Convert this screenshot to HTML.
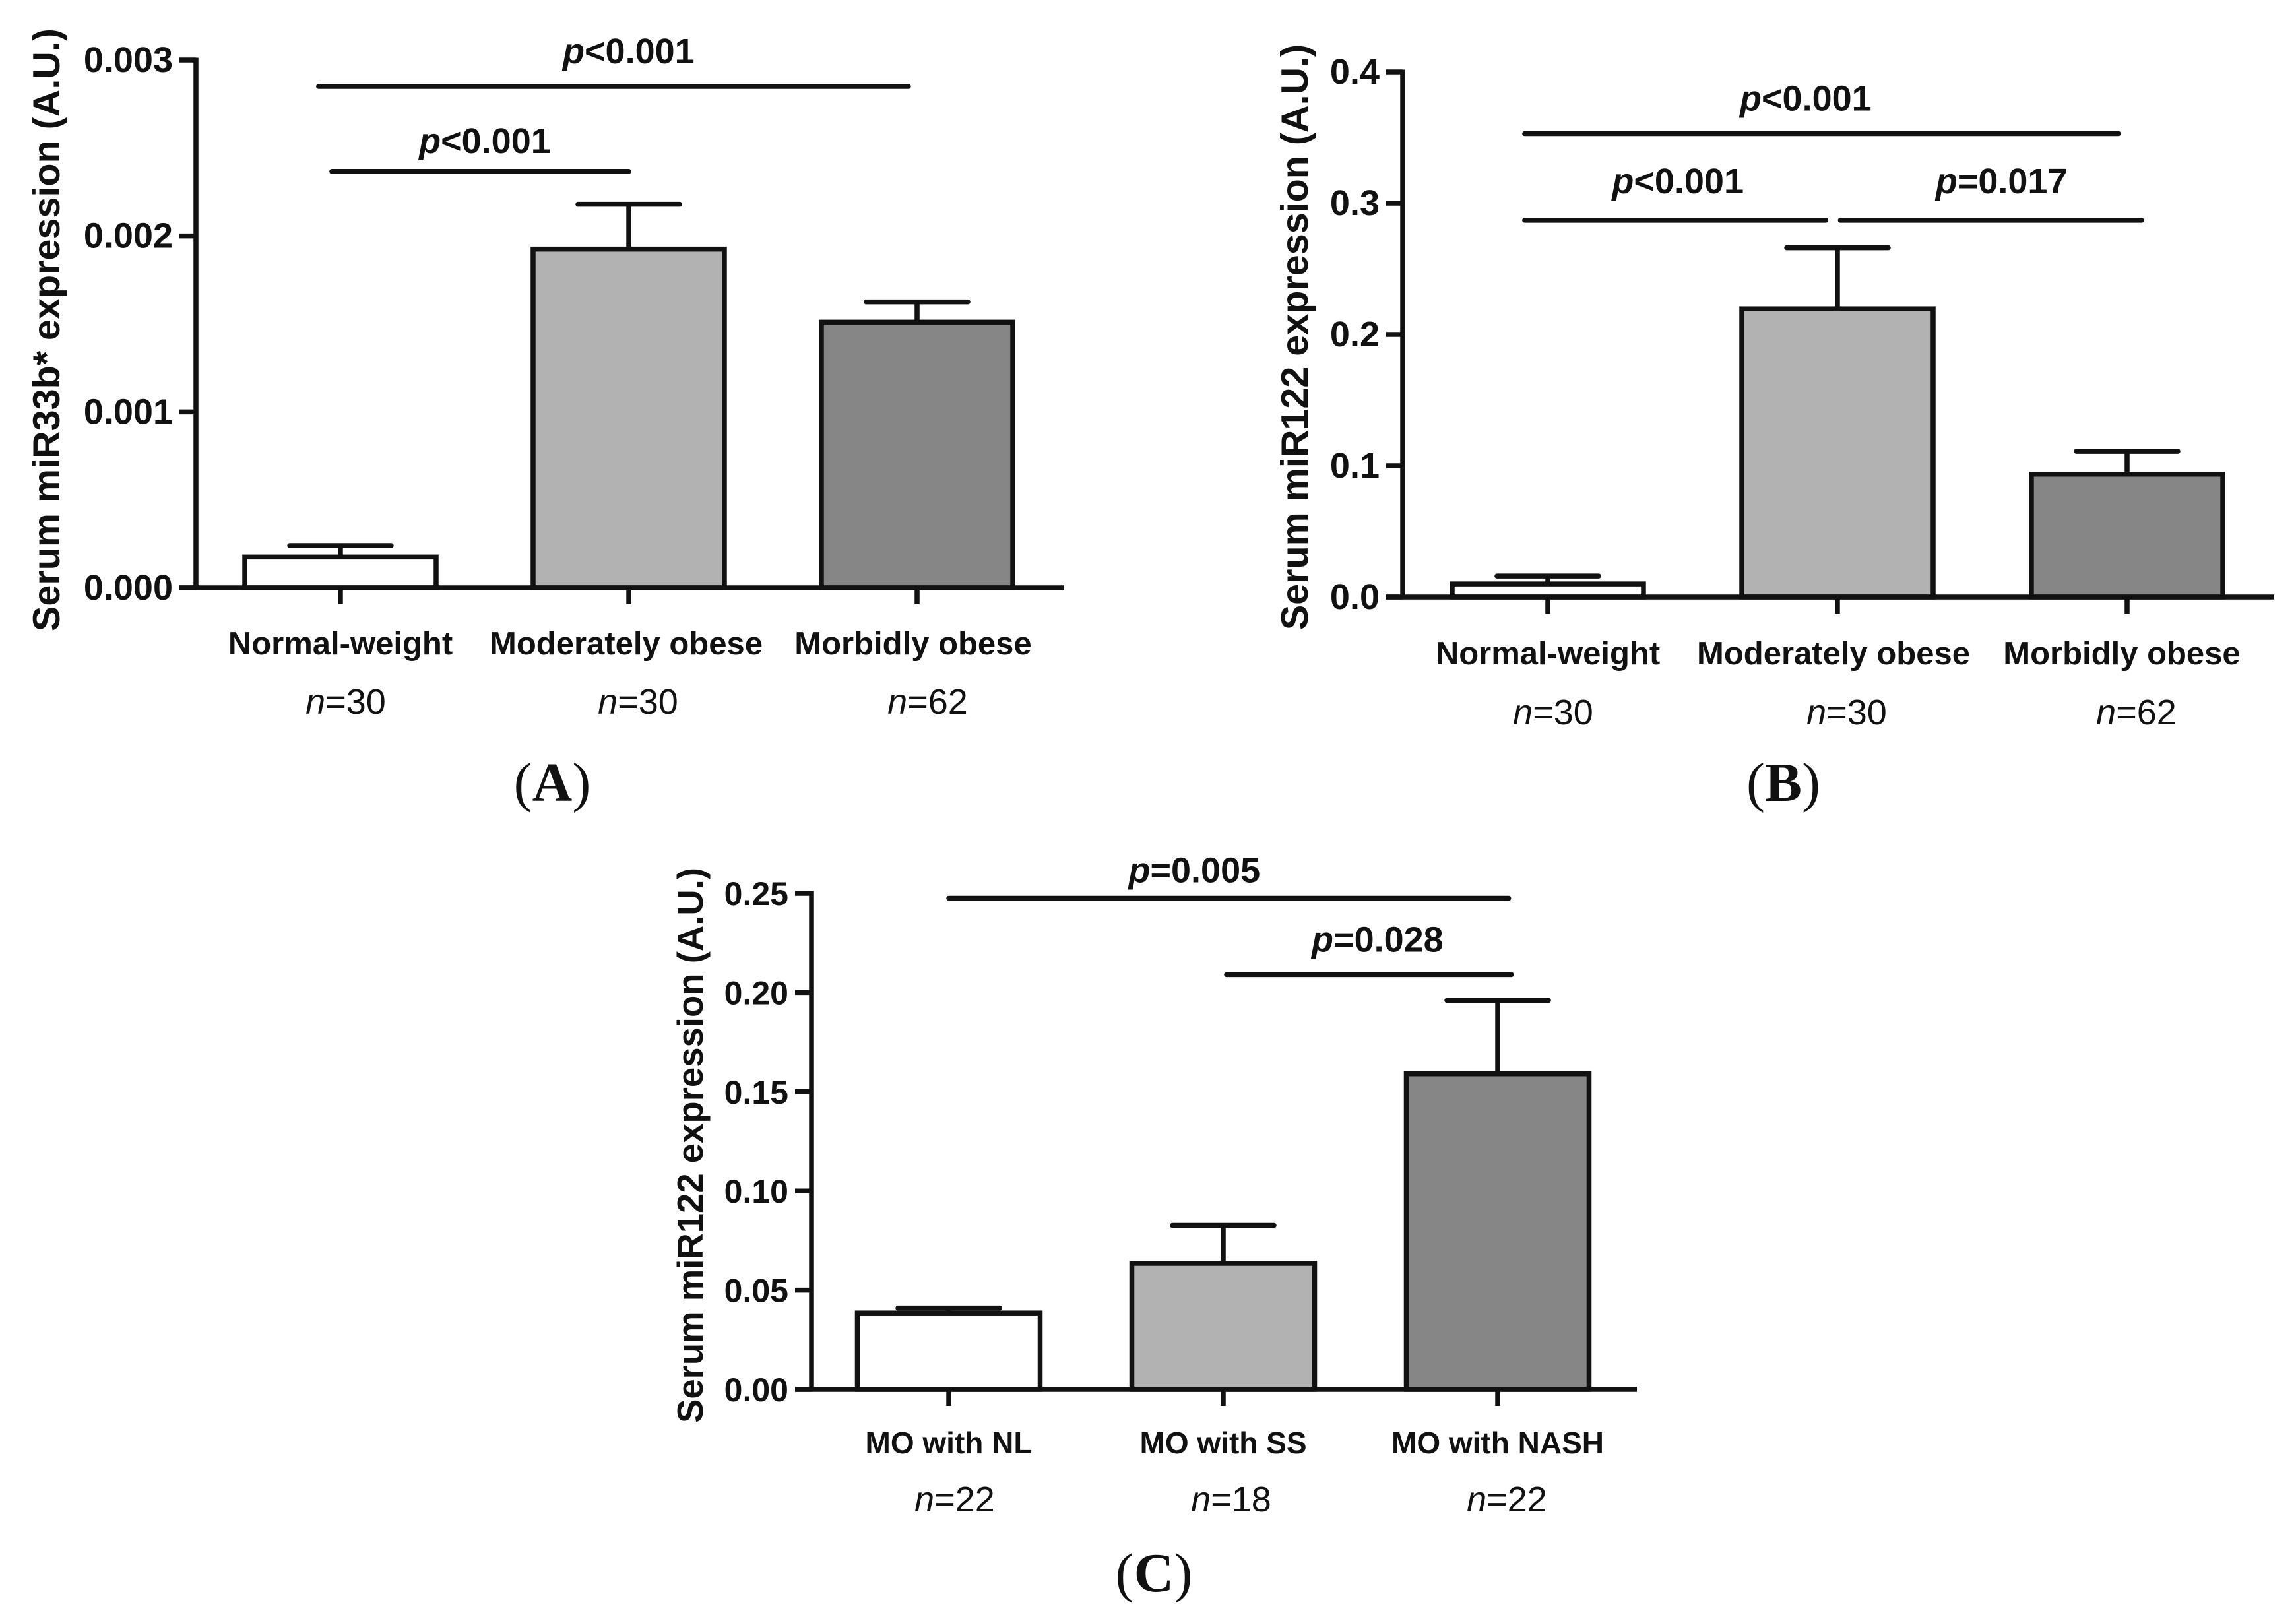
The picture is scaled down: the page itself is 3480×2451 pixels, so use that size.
<!DOCTYPE html>
<html lang="en">
<head>
<meta charset="utf-8">
<title>Serum miRNA expression bar charts</title>
<style>
  html, body { margin: 0; padding: 0; background: #ffffff; }
  #figure { display: block; width: 3480px; height: 2451px; }
  text { font-family: "Liberation Sans", Arial, sans-serif; fill: #111111; }
  .serif { font-family: "Liberation Serif", "Times New Roman", serif; }
</style>
</head>
<body>
<svg id="figure" xmlns="http://www.w3.org/2000/svg" width="3480" height="2451" viewBox="0 0 3480 2451"></svg>
<script>
// ---- Panel A data ----
const panelACategories = ["Normal-weight", "Moderately obese", "Morbidly obese"];
const panelACounts = ["30", "30", "62"];
const panelAMeans = [0.000175, 0.001925, 0.00151];
const panelAUpper = [0.00024, 0.00218, 0.001625];
const panelATicks = [0, 0.001, 0.002, 0.003];
const panelATickLabels = ["0.000", "0.001", "0.002", "0.003"];
const panelASigFrom = [-0.076, -0.03];
const panelASigTo = [1.97, 1.0];
const panelASigLevel = [0.00285, 0.002367];
const panelASigText = [["<", "0.001"], ["<", "0.001"]];

// ---- Panel B data ----
const panelBCategories = ["Normal-weight", "Moderately obese", "Morbidly obese"];
const panelBCounts = ["30", "30", "62"];
const panelBMeans = [0.01, 0.2195, 0.0936];
const panelBUpper = [0.016, 0.266, 0.111];
const panelBTicks = [0, 0.1, 0.2, 0.3, 0.4];
const panelBTickLabels = ["0.0", "0.1", "0.2", "0.3", "0.4"];
const panelBSigFrom = [-0.08, -0.08, 1.01];
const panelBSigTo = [1.97, 0.96, 2.05];
const panelBSigLevel = [0.353, 0.287, 0.287];
const panelBSigText = [["<", "0.001"], ["<", "0.001"], ["=", "0.017"]];

// ---- Panel C data ----
const panelCCategories = ["MO with NL", "MO with SS", "MO with NASH"];
const panelCCounts = ["22", "18", "22"];
const panelCMeans = [0.0385, 0.0635, 0.159];
const panelCUpper = [0.041, 0.0826, 0.196];
const panelCTicks = [0, 0.05, 0.10, 0.15, 0.20, 0.25];
const panelCTickLabels = ["0.00", "0.05", "0.10", "0.15", "0.20", "0.25"];
const panelCSigFrom = [0, 1.012];
const panelCSigTo = [2.04, 2.05];
const panelCSigLevel = [0.2475, 0.209];
const panelCSigText = [["=", "0.005"], ["=", "0.028"]];

const SVG_NS = "http://www.w3.org/2000/svg";
const INK = "#111111";
const LINE_W = 7.5;
const BAR_FILLS = ["#ffffff", "#b2b2b2", "#858685"];
const root = document.getElementById("figure");

function el(tag, attrs, parent) {
  const node = document.createElementNS(SVG_NS, tag);
  for (const key in attrs) node.setAttribute(key, attrs[key]);
  parent.appendChild(node);
  return node;
}

function drawPanel(p) {
  const g = el("g", {}, root);
  
  

  const yScale = v => p.y0 + (p.y1 - p.y0) * (v - p.ticks[0]) / (p.ticks[p.ticks.length - 1] - p.ticks[0]);
  const xScale = i => p.x0 + p.step * i;

  // bars and error bars
  p.means.forEach((m, i) => {
    const cx = xScale(i);
    const errLine = el("line", { x1: cx, x2: cx, y1: yScale(m), y2: yScale(p.upper[i]), stroke: INK, "stroke-width": LINE_W }, g);
    
    

    const cap = el("line", { x1: cx - p.capW / 2, x2: cx + p.capW / 2, y1: yScale(p.upper[i]), y2: yScale(p.upper[i]), stroke: INK, "stroke-width": LINE_W, "stroke-linecap": "round" }, g);
    
    

    const bar = el("rect", { x: cx - p.barW / 2, y: yScale(m), width: p.barW, height: p.y0 - yScale(m), fill: BAR_FILLS[i], stroke: INK, "stroke-width": LINE_W }, g);
    
    
  });

  // axes
  const yAxis = el("line", { x1: p.x, x2: p.x, y1: yScale(p.ticks[p.ticks.length - 1]) - 3.5, y2: p.y0, stroke: INK, "stroke-width": LINE_W }, g);
  
  

  const xAxis = el("line", { x1: p.x - 25, x2: p.xEnd, y1: p.y0, y2: p.y0, stroke: INK, "stroke-width": LINE_W }, g);
  
  

  // y ticks
  p.ticks.forEach((t, i) => {
    const mark = el("line", { x1: p.x - 25, x2: p.x, y1: yScale(t), y2: yScale(t), stroke: INK, "stroke-width": LINE_W }, g);
    
    

    const label = el("text", { x: p.x - 35, y: yScale(t) + 18, "text-anchor": "end", "font-size": p.tickFont, "font-weight": "bold" }, g);
    label.textContent = p.tickLabels[i];
    
    
  });

  // y title
  const title = el("text", { transform: "translate(" + p.titleX + " " + p.titleY + ") rotate(-90)", "text-anchor": "middle", "font-size": p.titleFont, "font-weight": "bold" }, g);
  title.textContent = p.title;
  
  

  // categories
  p.categories.forEach((c, i) => {
    const cx = xScale(i);
    const mark = el("line", { x1: cx, x2: cx, y1: p.y0, y2: p.y0 + 25, stroke: INK, "stroke-width": LINE_W }, g);
    
    

    const label = el("text", { x: cx + p.labelShift[i], y: p.labelY, "text-anchor": "middle", "font-size": p.catFont, "font-weight": "bold" }, g);
    label.textContent = c;
    
    

    const count = el("text", { x: cx + p.countShift[i], y: p.countY, "text-anchor": "middle", "font-size": 54 }, g);
    
    
    const nVar = el("tspan", { "font-style": "italic" }, count);
    nVar.textContent = "n";
    const nVal = el("tspan", {}, count);
    nVal.textContent = "=" + p.counts[i];
  });

  // significance lines
  p.sigLevel.forEach((lvl, i) => {
    const from = xScale(p.sigFrom[i]);
    const to = xScale(p.sigTo[i]);
    const line = el("line", { x1: from, x2: to, y1: yScale(lvl), y2: yScale(lvl), stroke: INK, "stroke-width": LINE_W, "stroke-linecap": "round" }, g);
    
    

    const txt = el("text", { x: (from + to) / 2 + p.sigShift[i], y: yScale(lvl) - p.sigRise[i], "text-anchor": "middle", "font-size": 54, "font-weight": "bold" }, g);
    
    
    const pVar = el("tspan", { "font-style": "italic" }, txt);
    pVar.textContent = "p";
    const pVal = el("tspan", {}, txt);
    pVal.textContent = p.sigText[i][0] + p.sigText[i][1];
  });

  // panel letter
  const letter = el("text", { x: p.letterX, y: p.letterY, "text-anchor": "middle", "font-size": 84, class: "serif" }, g);
  
  
  const open = el("tspan", {}, letter);
  open.textContent = "(";
  const bold = el("tspan", { "font-weight": "bold" }, letter);
  bold.textContent = p.id.toUpperCase();
  const close = el("tspan", {}, letter);
  close.textContent = ")";
}

drawPanel({
  id: "a", x: 297, xEnd: 1613, y0: 891, y1: 91, x0: 516, step: 437, barW: 290, capW: 154,
  ticks: panelATicks, tickLabels: panelATickLabels, tickFont: 54,
  means: panelAMeans, upper: panelAUpper, categories: panelACategories, counts: panelACounts,
  sigFrom: panelASigFrom, sigTo: panelASigTo, sigLevel: panelASigLevel, sigText: panelASigText,
  sigShift: [23, 7], sigRise: [35, 28], labelShift: [0, -4, -6], countShift: [8, 14, 16], labelY: 992, countY: 1082, catFont: 49,
  title: "Serum miR33b* expression (A.U.)", titleX: 90, titleY: 500, titleFont: 57.5, letterX: 837, letterY: 1214
});

drawPanel({
  id: "b", x: 2126, xEnd: 3447, y0: 905, y1: 109, x0: 2346, step: 439, barW: 290, capW: 154,
  ticks: panelBTicks, tickLabels: panelBTickLabels, tickFont: 54,
  means: panelBMeans, upper: panelBUpper, categories: panelBCategories, counts: panelBCounts,
  sigFrom: panelBSigFrom, sigTo: panelBSigTo, sigLevel: panelBSigLevel, sigText: panelBSigText,
  sigShift: [-24, 4, 16], sigRise: [35, 41, 41], labelShift: [0, -6, -8], countShift: [8, 14, 14], labelY: 1007, countY: 1098, catFont: 49,
  title: "Serum miR122 expression (A.U.)", titleX: 1982, titleY: 511, titleFont: 57.5, letterX: 2703, letterY: 1214
});

drawPanel({
  id: "c", x: 1230, xEnd: 2481, y0: 2106, y1: 1354, x0: 1438, step: 416, barW: 277, capW: 154,
  ticks: panelCTicks, tickLabels: panelCTickLabels, tickFont: 50,
  means: panelCMeans, upper: panelCUpper, categories: panelCCategories, counts: panelCCounts,
  sigFrom: panelCSigFrom, sigTo: panelCSigTo, sigLevel: panelCSigLevel, sigText: panelCSigText,
  sigShift: [-52, 13], sigRise: [24, 35], labelShift: [0, 0, 0], countShift: [9, 12, 14], labelY: 2203, countY: 2291, catFont: 46,
  title: "Serum miR122 expression (A.U.)", titleX: 1065, titleY: 1736, titleFont: 54.5, letterX: 1749, letterY: 2412
});
</script>
</body>
</html>
